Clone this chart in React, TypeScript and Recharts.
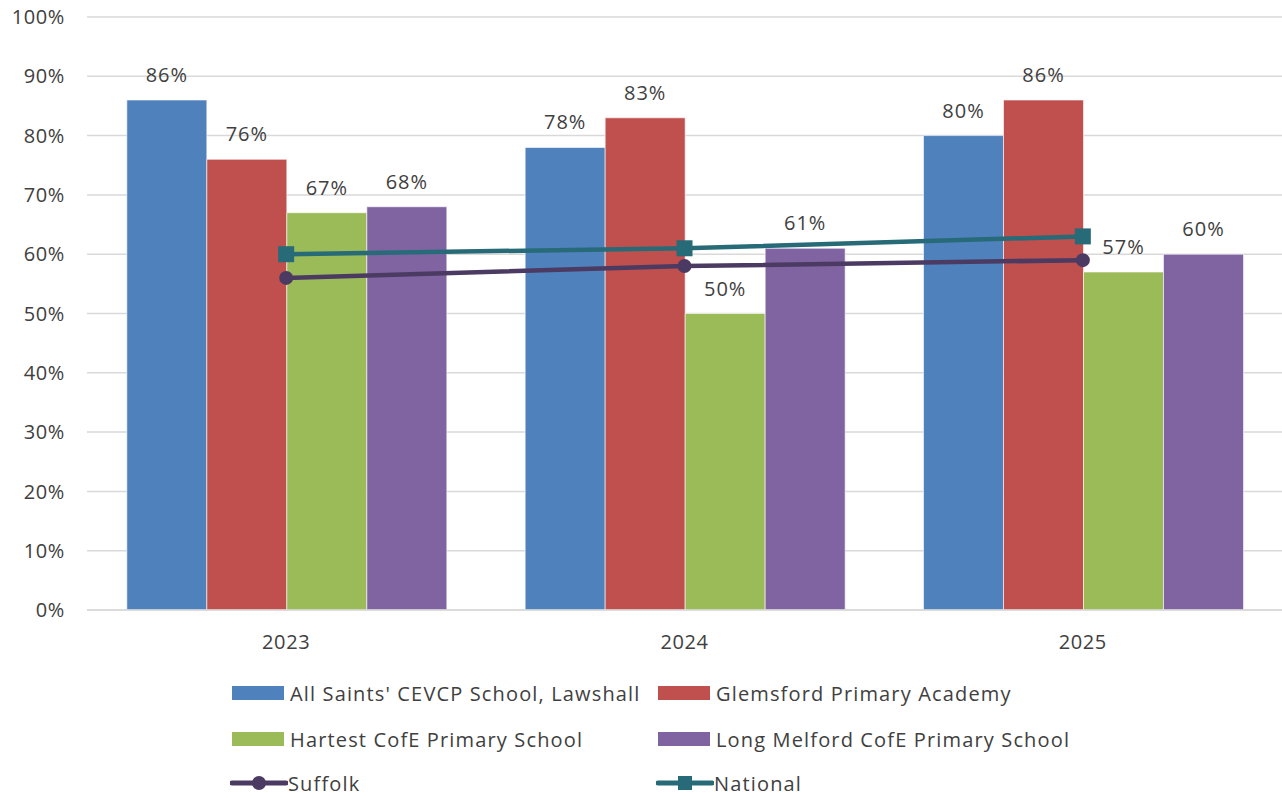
import {
  Bar,
  CartesianGrid,
  ComposedChart,
  LabelList,
  Line,
  XAxis,
  YAxis,
} from "recharts";

const years = ["2023", "2024", "2025"];
const allSaints = [86, 78, 80];
const glemsford = [76, 83, 86];
const hartest = [67, 50, 57];
const longMelford = [68, 61, 60];
const suffolk = [56, 58, 59];
const national = [60, 61, 63];
const yTicks = [0, 10, 20, 30, 40, 50, 60, 70, 80, 90, 100];

const data = years.map((year, i) => ({
  year,
  allSaints: allSaints[i],
  glemsford: glemsford[i],
  hartest: hartest[i],
  longMelford: longMelford[i],
  suffolk: suffolk[i],
  national: national[i],
}));

const FONT = "'Open Sans', 'Liberation Sans', sans-serif";
const TEXT = "#404040";

const barSeries = [
  { key: "allSaints", name: "All Saints' CEVCP School, Lawshall", color: "#4f81bd" },
  { key: "glemsford", name: "Glemsford Primary Academy", color: "#c0504d" },
  { key: "hartest", name: "Hartest CofE Primary School", color: "#9bbb59" },
  { key: "longMelford", name: "Long Melford CofE Primary School", color: "#8064a2" },
];

const SUFFOLK = "#4b3a62";
const NATIONAL = "#276a78";

const tickStyle = { fontSize: 20, fill: TEXT, fontFamily: FONT, letterSpacing: 0.6 };

function BarSwatch({ color }: { color: string }) {
  return <span style={{ display: "inline-block", width: 52, height: 14, background: color, marginRight: 6 }} />;
}

function LineSwatch({ color, square }: { color: string; square?: boolean }) {
  return (
    <svg width={58} height={16}>
      <line x1={2} y1={8} x2={56} y2={8} stroke={color} strokeWidth={5} strokeLinecap="round" />
      {square ? (
        <rect x={22} y={1} width={14} height={14} fill={color} />
      ) : (
        <circle cx={29} cy={8} r={7} fill={color} />
      )}
    </svg>
  );
}

function ChartLegend() {
  const item = (swatch: React.ReactNode, label: string, x: number, y: number) => (
    <div
      key={label}
      style={{
        position: "absolute",
        left: x,
        top: y - 13,
        height: 26,
        display: "flex",
        alignItems: "center",
        fontFamily: FONT,
        fontSize: 20,
        letterSpacing: 1.15,
        color: TEXT,
        whiteSpace: "nowrap",
      }}
    >
      {swatch}
      {label}
    </div>
  );
  return (
    <>
      {item(<BarSwatch color={barSeries[0].color} />, barSeries[0].name, 232, 693)}
      {item(<BarSwatch color={barSeries[1].color} />, barSeries[1].name, 658, 693)}
      {item(<BarSwatch color={barSeries[2].color} />, barSeries[2].name, 232, 739)}
      {item(<BarSwatch color={barSeries[3].color} />, barSeries[3].name, 658, 739)}
      {item(<LineSwatch color={SUFFOLK} />, "Suffolk", 230, 783)}
      {item(<LineSwatch color={NATIONAL} square />, "National", 656, 783)}
    </>
  );
}

function SquareDot(props: any) {
  const { cx, cy } = props;
  if (cx == null || cy == null) return null;
  return <rect x={cx - 8} y={cy - 8} width={16} height={16} fill={NATIONAL} />;
}

export default function App() {
  return (
    <div style={{ position: "absolute", left: 0, top: 0, width: 1282, height: 798, background: "#fff" }}>
      <ComposedChart
        width={1282}
        height={660}
        data={data}
        margin={{ top: 17, right: 0, bottom: 0, left: 0 }}
        barCategoryGap="10%"
        barGap={0}
      >
        <CartesianGrid vertical={false} stroke="#d9d9d9" strokeWidth={1.5} />
        <XAxis
          dataKey="year"
          height={50}
          axisLine={{ stroke: "#d9d9d9", strokeWidth: 1.5 }}
          tickLine={false}
          tickMargin={19}
          tick={tickStyle}
        />
        <YAxis
          width={87}
          domain={[0, 100]}
          ticks={yTicks}
          interval={0}
          axisLine={false}
          tickLine={false}
          tickMargin={16}
          tickFormatter={(v) => `${v}%`}
          tick={tickStyle}
        />
        {barSeries.map((s) => (
          <Bar key={s.key} dataKey={s.key} name={s.name} fill={s.color} stroke="#ffffff" strokeWidth={0.6} isAnimationActive={false}>
            <LabelList
              dataKey={s.key}
              position="top"
              offset={18}
              formatter={(v: any) => `${v}%`}
              style={{ fontSize: 20, fill: TEXT, fontFamily: FONT, letterSpacing: 1 }}
            />
          </Bar>
        ))}
        <Line
          dataKey="suffolk"
          name="Suffolk"
          stroke={SUFFOLK}
          strokeWidth={4.5}
          dot={{ r: 7, fill: SUFFOLK, stroke: SUFFOLK, strokeWidth: 0 }}
          isAnimationActive={false}
        />
        <Line
          dataKey="national"
          name="National"
          stroke={NATIONAL}
          strokeWidth={4.5}
          dot={<SquareDot />}
          isAnimationActive={false}
        />
      </ComposedChart>
      <ChartLegend />
    </div>
  );
}
